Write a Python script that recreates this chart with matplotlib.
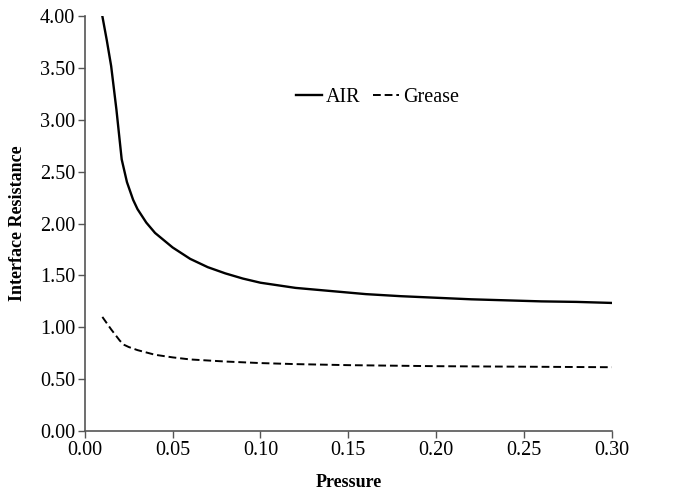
import matplotlib
matplotlib.use("Agg")
import matplotlib.pyplot as plt

# values
air_x = [0.010, 0.0125, 0.015, 0.018, 0.021, 0.024, 0.0275, 0.030, 0.035,
         0.040, 0.045, 0.050, 0.060, 0.070, 0.080, 0.090, 0.10,
         0.12, 0.14, 0.16, 0.18, 0.20, 0.22, 0.24, 0.26, 0.28, 0.30]
air_y = [4.00, 3.77, 3.52, 3.10, 2.62, 2.40, 2.23, 2.14, 2.01,
         1.91, 1.84, 1.77, 1.66, 1.58, 1.52, 1.47, 1.43,
         1.38, 1.35, 1.32, 1.30, 1.285, 1.27, 1.26, 1.25, 1.245, 1.235]

grease_x = [0.010, 0.015, 0.020, 0.0225, 0.025, 0.030, 0.040, 0.050, 0.060,
            0.080, 0.10, 0.12, 0.15, 0.20, 0.25, 0.30]
grease_y = [1.10, 0.98, 0.87, 0.83, 0.81, 0.78, 0.735, 0.71, 0.69,
            0.67, 0.655, 0.645, 0.635, 0.625, 0.62, 0.615]

x_ticks = [0.00, 0.05, 0.10, 0.15, 0.20, 0.25, 0.30]
y_ticks = [0.00, 0.50, 1.00, 1.50, 2.00, 2.50, 3.00, 3.50, 4.00]

plt.rcParams['font.family'] = ['Liberation Serif', 'DejaVu Serif']

fig = plt.figure(figsize=(6.73, 4.92), dpi=100)
ax = fig.add_axes([0.126, 0.124, 0.783, 0.843])

ax.plot(air_x, air_y, color='black', lw=1.7, label='AIR')
ax.plot(grease_x, grease_y, color='black', lw=1.4, ls=(0, (4, 2)), label='Grease')

ax.set_xlim(0, 0.30)
ax.set_ylim(0, 4.0)
ax.set_xticks(x_ticks)
ax.set_yticks(y_ticks)
ax.set_xticklabels([f"{v:.2f}" for v in x_ticks])
ax.set_yticklabels([f"{v:.2f}" for v in y_ticks])
ax.tick_params(labelsize=14.5, length=5, width=1, color='#555555', pad=2)

for s in ['top', 'right']:
    ax.spines[s].set_visible(False)
for s in ['left', 'bottom']:
    ax.spines[s].set_color('#555555')
    ax.spines[s].set_linewidth(1.2)

ax.set_xlabel('Pressure', fontsize=13, fontweight='bold', labelpad=10)
ax.set_ylabel('Interface Resistance', fontsize=13, fontweight='bold', labelpad=10)

ax.legend(loc='center', bbox_to_anchor=(0.555, 0.805), ncol=2, frameon=False,
          fontsize=14.5, handlelength=1.3, handletextpad=0.2, columnspacing=0.6)

fig.savefig('out.png', dpi=100)
